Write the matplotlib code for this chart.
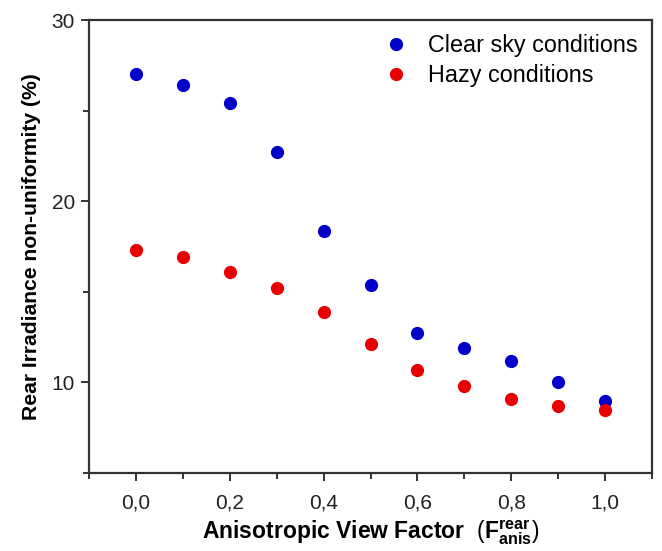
import matplotlib
matplotlib.use("Agg")
import matplotlib.pyplot as plt
from matplotlib.ticker import MultipleLocator

plt.rcParams['font.family'] = ['Liberation Sans', 'DejaVu Sans']
plt.rcParams['mathtext.fontset'] = 'custom'
plt.rcParams['mathtext.rm'] = 'Liberation Sans'
plt.rcParams['mathtext.bf'] = 'Liberation Sans:bold'

view_factor = [0.0, 0.1, 0.2, 0.3, 0.4, 0.5, 0.6, 0.7, 0.8, 0.9, 1.0]
clear_sky = [27.0, 26.4, 25.4, 22.7, 18.35, 15.4, 12.7, 11.9, 11.2, 10.0, 9.0]
hazy = [17.3, 16.9, 16.1, 15.2, 13.9, 12.1, 10.7, 9.8, 9.1, 8.7, 8.5]

x_ticks = [0.0, 0.2, 0.4, 0.6, 0.8, 1.0]
x_tick_labels = ['0,0', '0,2', '0,4', '0,6', '0,8', '1,0']
y_ticks = [10, 20, 30]


def main():
    fig = plt.figure(figsize=(6.62, 5.51), dpi=100)
    ax = fig.add_axes([0.1344, 0.1416, 0.8506, 0.8221])

    ax.plot(view_factor, clear_sky, 'o', color='#0000c8', markersize=8.5,
            label='Clear sky conditions')
    ax.plot(view_factor, hazy, 'o', color='#e80000', markersize=8.5,
            label='Hazy conditions')

    ax.set_xlim(-0.1, 1.1)
    ax.set_ylim(5, 30)
    ax.set_xticks(x_ticks)
    ax.set_xticklabels(x_tick_labels)
    ax.set_yticks(y_ticks)
    ax.xaxis.set_minor_locator(MultipleLocator(0.1))
    ax.yaxis.set_minor_locator(MultipleLocator(5))

    for s in ax.spines.values():
        s.set_linewidth(1.6)
        s.set_color('#333333')
    ax.tick_params(which='major', direction='out', length=6, width=1.4,
                   labelsize=15, colors='#333333', labelcolor='#222222')
    ax.tick_params(axis='x', which='major', pad=9)
    ax.tick_params(axis='y', which='major', pad=4)
    ax.tick_params(which='minor', direction='out', length=4, width=1.4,
                   colors='#333333')

    ax.set_ylabel('Rear Irradiance non-uniformity (%)', fontsize=15.2,
                  fontweight='bold', labelpad=8)
    ax.set_xlabel(r'Anisotropic View Factor  $(\mathbf{F}_{\mathbf{anis}}^{\mathbf{rear}})$',
                  fontsize=16.5, fontweight='bold', labelpad=4)

    ax.legend(loc='upper right', frameon=False, fontsize=16.8, handletextpad=0.9,
              borderaxespad=0.2, handlelength=1.0, labelspacing=0.3,
              borderpad=0.4)

    fig.savefig('out.png', dpi=100)


if __name__ == "__main__":
    main()
